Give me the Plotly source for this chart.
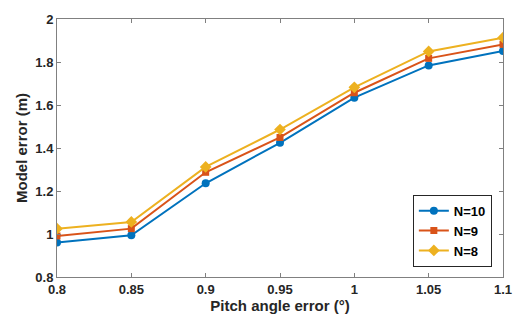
import plotly.graph_objects as go

x_vals = [0.8, 0.85, 0.9, 0.95, 1.0, 1.05, 1.1]
n10 = [0.960, 0.994, 1.236, 1.424, 1.634, 1.784, 1.851]
n9 = [0.991, 1.025, 1.287, 1.449, 1.657, 1.817, 1.882]
n8 = [1.025, 1.056, 1.312, 1.486, 1.682, 1.849, 1.913]
x_ticks = [0.8, 0.85, 0.9, 0.95, 1.0, 1.05, 1.1]
x_tick_text = ["0.8", "0.85", "0.9", "0.95", "1", "1.05", "1.1"]
y_ticks = [0.8, 1.0, 1.2, 1.4, 1.6, 1.8, 2.0]
y_tick_text = ["0.8", "1", "1.2", "1.4", "1.6", "1.8", "2"]

fig = go.Figure()
series = [
    ("N=10", n10, "#0072BD", "circle", 8),
    ("N=9", n9, "#D95319", "square", 7),
    ("N=8", n8, "#EDB120", "diamond", 9),
]
for name, ys, col, sym, sz in series:
    fig.add_trace(go.Scatter(
        x=x_vals, y=ys, name=name, mode="lines+markers",
        line=dict(color=col, width=2),
        marker=dict(color=col, symbol=sym, size=sz),
    ))

font = dict(family="Liberation Sans, Arial, sans-serif", color="#262626")
fig.update_layout(
    width=514, height=321,
    margin=dict(l=57, r=11, t=19, b=44),
    paper_bgcolor="white", plot_bgcolor="white",
    font=font,
    showlegend=True,
    legend=dict(
        x=0.975, y=0.04, xanchor="right", yanchor="bottom",
        bordercolor="#262626", borderwidth=1, bgcolor="white",
        font=dict(size=13, family="Liberation Sans, Arial, sans-serif", color="#000000", weight="bold"),
        tracegroupgap=0, itemwidth=30,
    ),
)
fig.update_xaxes(
    range=[0.8, 1.1], tickvals=x_ticks, ticktext=x_tick_text,
    automargin=False,
    showgrid=False, zeroline=False,
    showline=True, linecolor="#808080", linewidth=1, mirror="allticks",
    ticks="inside", ticklen=4, tickcolor="#808080",
    tickfont=dict(size=13, weight="bold", color="#262626"),
    title=dict(text="Pitch angle error (°)", font=dict(size=15, weight="bold", color="#262626"), standoff=4),
)
fig.update_yaxes(
    range=[0.8, 2.0], tickvals=y_ticks, ticktext=y_tick_text,
    automargin=False,
    showgrid=False, zeroline=False,
    showline=True, linecolor="#808080", linewidth=1, mirror="allticks",
    ticks="inside", ticklen=4, tickcolor="#808080",
    tickfont=dict(size=13, weight="bold", color="#262626"),
    title=dict(text="Model error (m)", font=dict(size=15, weight="bold", color="#262626"), standoff=4),
)

fig.write_html("out.html", config={"displayModeBar": False},
               post_script="document.body.style.margin='0';document.body.style.overflow='hidden';")
